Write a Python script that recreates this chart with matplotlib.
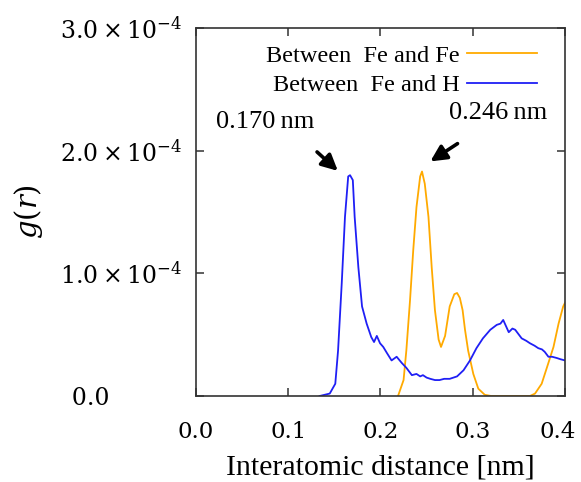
import matplotlib.pyplot as plt
import matplotlib.transforms as mtransforms
import numpy as np

# g(r), values in units of 1e-4
r_feh = [0.134, 0.145, 0.151, 0.154, 0.158, 0.1615, 0.165, 0.167, 0.170, 0.172,
         0.176, 0.180, 0.185, 0.190, 0.193, 0.196, 0.1995, 0.203, 0.207, 0.212,
         0.2175, 0.223, 0.228, 0.234, 0.239, 0.243, 0.246, 0.250, 0.254, 0.259,
         0.264, 0.269, 0.275, 0.279, 0.283, 0.290, 0.297, 0.304, 0.311, 0.319,
         0.326, 0.330, 0.333, 0.336, 0.339, 0.343, 0.346, 0.350, 0.353, 0.358,
         0.362, 0.367, 0.371, 0.375, 0.378, 0.382, 0.386, 0.391, 0.395, 0.400]
g_feh = [0.0, 0.02, 0.10, 0.37, 0.92, 1.46, 1.79, 1.80, 1.76, 1.46,
         1.05, 0.73, 0.59, 0.48, 0.44, 0.49, 0.43, 0.40, 0.35, 0.29,
         0.32, 0.27, 0.23, 0.17, 0.18, 0.16, 0.17, 0.15, 0.14, 0.13,
         0.13, 0.14, 0.14, 0.15, 0.16, 0.21, 0.29, 0.39, 0.47, 0.54,
         0.58, 0.59, 0.62, 0.57, 0.52, 0.55, 0.54, 0.50, 0.47, 0.45,
         0.43, 0.41, 0.39, 0.38, 0.36, 0.32, 0.32, 0.31, 0.30, 0.29]

r_fefe = [0.219, 0.225, 0.228, 0.232, 0.2355, 0.239, 0.243, 0.245, 0.248, 0.252,
          0.2555, 0.259, 0.263, 0.2656, 0.270, 0.275, 0.280, 0.283, 0.286, 0.289,
          0.2916, 0.295, 0.3006, 0.306, 0.313, 0.320, 0.362, 0.3675, 0.3747, 0.382,
          0.3875, 0.393, 0.398, 0.400]
g_fefe = [0.0, 0.13, 0.37, 0.78, 1.19, 1.54, 1.79, 1.83, 1.73, 1.46,
          1.05, 0.70, 0.46, 0.40, 0.49, 0.73, 0.83, 0.84, 0.80, 0.70,
          0.54, 0.37, 0.18, 0.06, 0.01, 0.0, 0.0, 0.02, 0.10, 0.27,
          0.40, 0.59, 0.73, 0.76]

y_ticks = [0.0, 1.0e-4, 2.0e-4, 3.0e-4]
y_ticklabels = ['\u20020.0', r'$1.0\times10^{-4}$', r'$2.0\times10^{-4}$', r'$3.0\times10^{-4}$']
x_ticks = [0.0, 0.1, 0.2, 0.3, 0.4]
x_ticklabels = ['0.0', '0.1', '0.2', '0.3', '0.4']

plt.rcParams['font.family'] = ['Liberation Serif', 'DejaVu Serif']
plt.rcParams['mathtext.fontset'] = 'dejavuserif'

fig = plt.figure(figsize=(5.81, 4.82), dpi=100)
ax = fig.add_axes([0.3373, 0.1784, 0.6352, 0.7635])

ax.plot(r_fefe, np.array(g_fefe) * 1e-4, color='#FFAA00', lw=1.3, label='Between  Fe and Fe')
ax.plot(r_feh, np.array(g_feh) * 1e-4, color='#1F1FF5', lw=1.3, label='Between  Fe and H')

ax.set_xlim(0, 0.4)
ax.set_ylim(0, 3e-4)
ax.set_xticks(x_ticks)
ax.set_xticklabels(x_ticklabels, fontfamily='DejaVu Serif', fontsize=16.5)
ax.set_yticks(y_ticks)
ax.set_yticklabels(y_ticklabels, fontfamily='DejaVu Serif', fontsize=17)
for lab in ax.get_yticklabels():
    lab.set_horizontalalignment('left')
ax.tick_params(axis='y', direction='in', length=6, width=1.1, right=True, pad=98, colors='#333333',
               labelcolor='black')
ax.tick_params(axis='x', direction='in', length=6, width=1.1, top=True, pad=18, colors='#333333',
               labelcolor='black')
for s in ax.spines.values():
    s.set_linewidth(1.2)
    s.set_color('#333333')

# nudge the last x label left so it stays inside the canvas
last = ax.get_xticklabels()[-1]
last.set_transform(last.get_transform() +
                   mtransforms.ScaledTranslation(-5 / 72, 0, fig.dpi_scale_trans))

ax.set_xlabel('Interatomic distance [nm]', fontsize=21.5, labelpad=8)
ax.set_ylabel(r'$g(r)$', fontsize=21)
ax.yaxis.set_label_coords(-0.41, 0.5)

ax.legend(loc='upper right', frameon=False, markerfirst=False, fontsize=17.5,
          bbox_to_anchor=(0.925, 0.954), borderaxespad=0, borderpad=0,
          handlelength=2.9, handletextpad=0.3, labelspacing=0.3)

arrow = dict(arrowstyle='-|>', color='black', lw=2.6, mutation_scale=24)
ax.annotate('', xy=(0.156, 1.82e-4), xytext=(0.129, 2.005e-4), arrowprops=arrow)
ax.annotate('', xy=(0.2515, 1.90e-4), xytext=(0.286, 2.07e-4), arrowprops=arrow)
ax.text(0.075, 2.23e-4, '0.170\u2009nm', fontsize=19, ha='center', va='center')
ax.text(0.327, 2.31e-4, '0.246\u2009nm', fontsize=19, ha='center', va='center')

fig.savefig('out.png', dpi=100)
